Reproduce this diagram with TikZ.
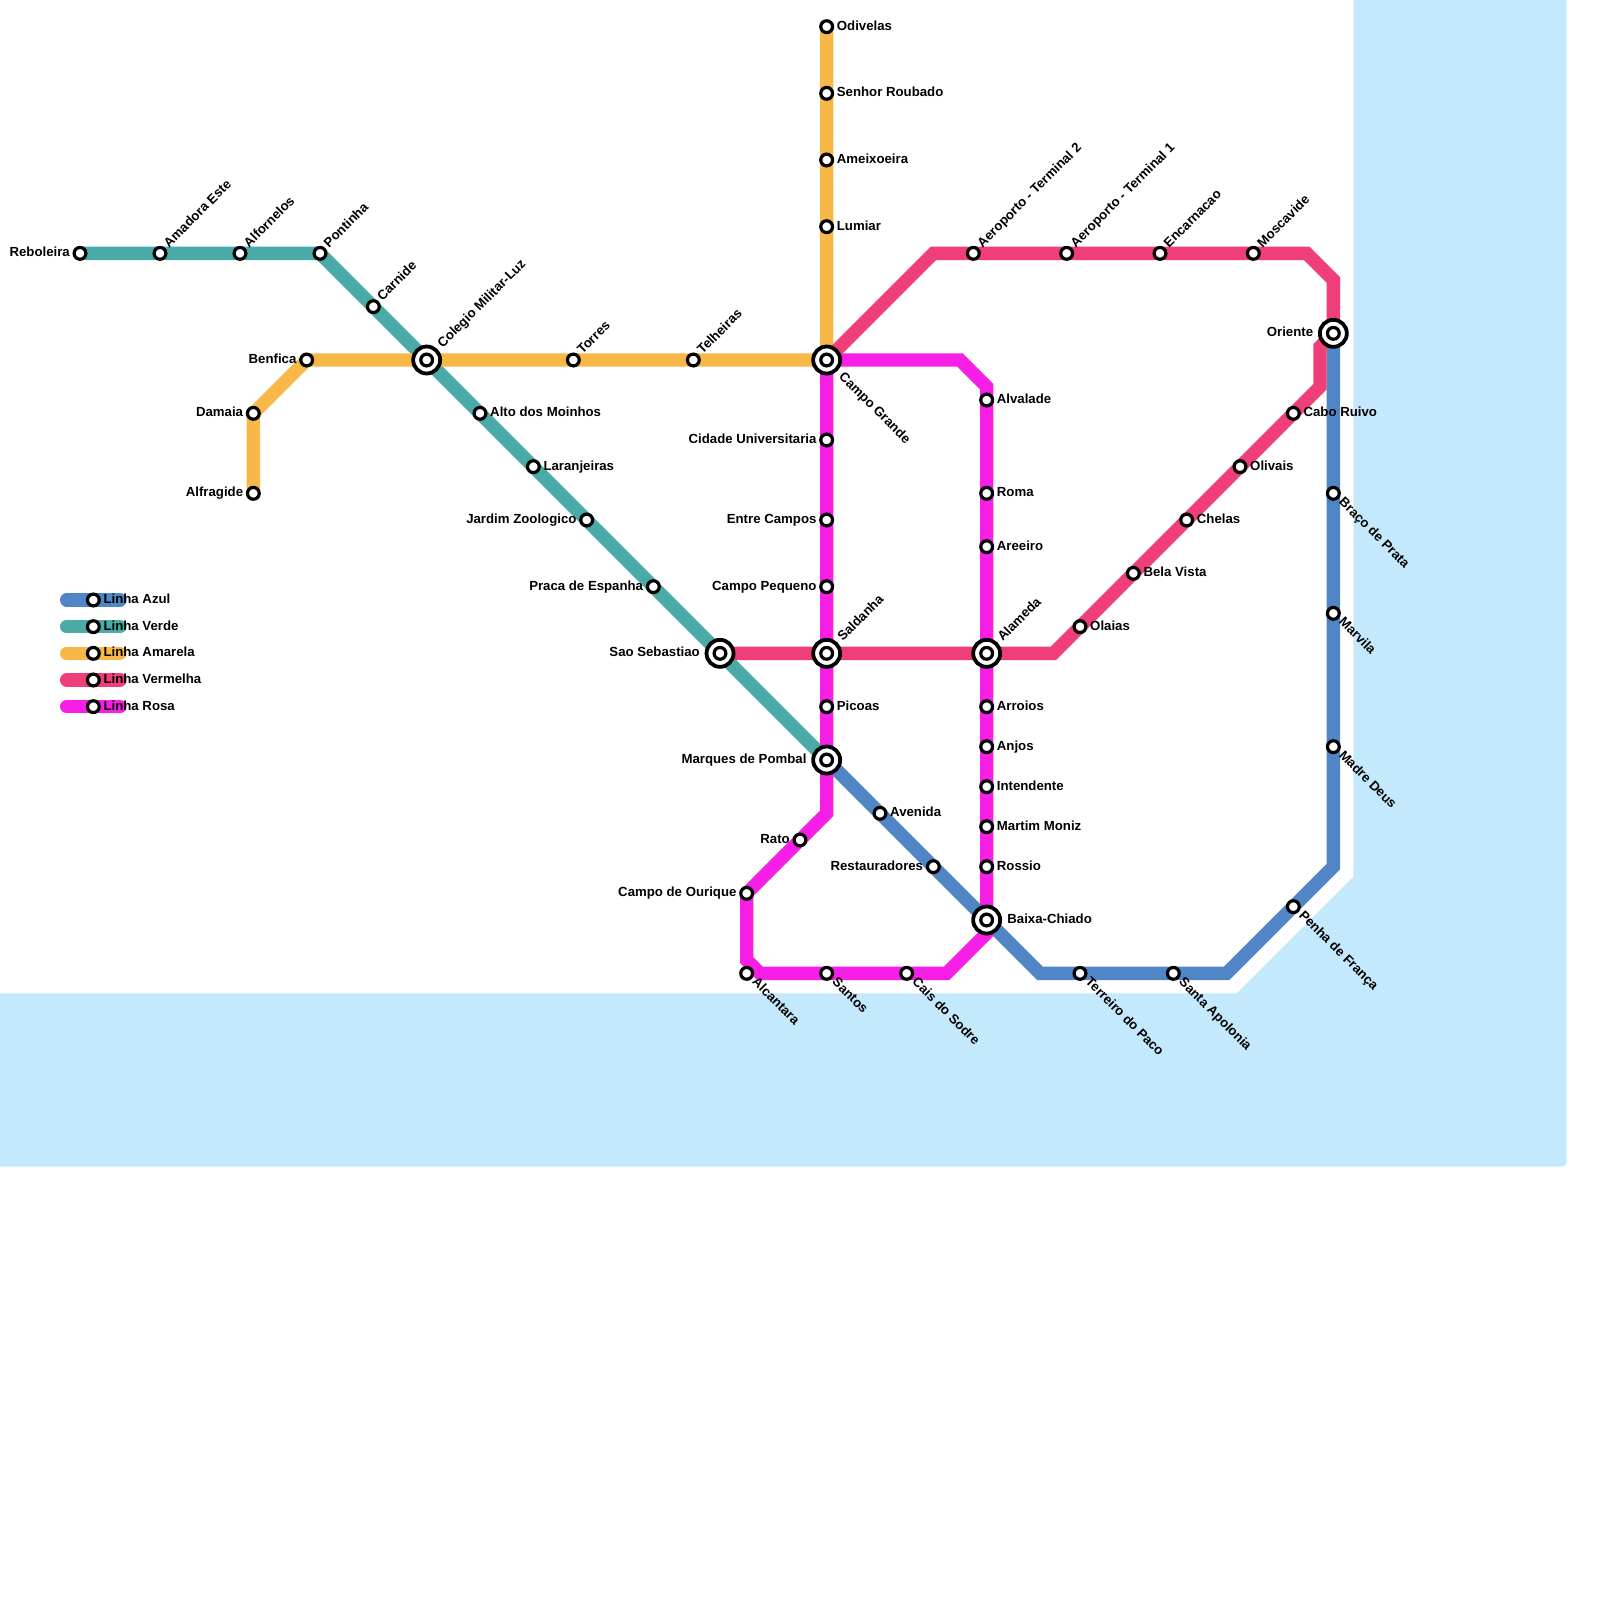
\documentclass[tikz,border=0pt]{standalone}
\usepackage{fontspec}
\setmainfont{Liberation Sans}
\pgfdeclarelayer{water}
\pgfdeclarelayer{lines}
\pgfsetlayers{water,lines,main}
\definecolor{cwater}{HTML}{C4E9FC}
\definecolor{cazul}{HTML}{5085C6}
\definecolor{cverde}{HTML}{4AAAA8}
\definecolor{camar}{HTML}{F8B848}
\definecolor{cverm}{HTML}{EF3E78}
\definecolor{crosa}{HTML}{F71EE6}
\def\px{0.03cm}
\tikzset{
  metro/.style={line width=13.33*\px,line cap=round,line join=miter,miter limit=10},
  stop/.style={circle,draw=black,fill=white,line width=3.2*\px,inner sep=0pt,outer sep=0pt,minimum size=11.8*\px},
  hubring/.style={circle,draw=black,fill=white,line width=3.8*\px,inner sep=0pt,outer sep=0pt,minimum size=27*\px},
  lab/.style={inner sep=0pt,text=black,font=\fontsize{11.28}{13}\selectfont\bfseries},
  nR/.style={lab,anchor=base west,xshift=10.0*\px,yshift=-3.5*\px},
  nL/.style={lab,anchor=base east,xshift=-10.0*\px,yshift=-3.5*\px},
  nU/.style={lab,anchor=base west,xshift=9*\px,yshift=5.0*\px,rotate=45},
  nD/.style={lab,anchor=base west,xshift=4.8*\px,yshift=-9.3*\px,rotate=-45},
  hR/.style={lab,anchor=base west,xshift=20.5*\px,yshift=-3.5*\px},
  hL/.style={lab,anchor=base east,xshift=-20*\px,yshift=-3.5*\px},
  hU/.style={lab,anchor=base west,xshift=16*\px,yshift=11.4*\px,rotate=45},
  hD/.style={lab,anchor=base west,xshift=11.5*\px,yshift=-17.3*\px,rotate=-45},
}
% name, x, y, label style, text
\newcommand{\stat}[5]{%
  \node[stop] (#1) at (#2,#3) {};
  \node[#4] (#1-t) at (#1.center) {#5};}
\newcommand{\hub}[5]{%
  \node[hubring] (#1-o) at (#2,#3) {};
  \node[stop] (#1) at (#2,#3) {};
  \node[#4] (#1-t) at (#1.center) {#5};}
\begin{document}
\begin{tikzpicture}[x=0.4cm,y=-0.4cm]
\useasboundingbox (0,0) rectangle (120,120);
\begin{pgfonlayer}{water}
\fill[cwater] (101.5,0) -- (117.5,0) [rounded corners=5*\px] -- (117.5,87.5) [sharp corners] -- (0,87.5) -- (0,74.5) -- (92.75,74.5) -- (101.5,65.75) -- cycle;
\end{pgfonlayer}
% legend
\coordinate (la1) at (5,45); \coordinate (la2) at (9,45);
\coordinate (lb1) at (5,47); \coordinate (lb2) at (9,47);
\coordinate (lc1) at (5,49); \coordinate (lc2) at (9,49);
\coordinate (ld1) at (5,51); \coordinate (ld2) at (9,51);
\coordinate (le1) at (5,53); \coordinate (le2) at (9,53);
\stat{lega}{7}{45}{nR}{Linha Azul}
\stat{legb}{7}{47}{nR}{Linha Verde}
\stat{legc}{7}{49}{nR}{Linha Amarela}
\stat{legd}{7}{51}{nR}{Linha Vermelha}
\stat{lege}{7}{53}{nR}{Linha Rosa}
% green
\stat{reboleira}{6}{19}{nL}{Reboleira}
\stat{amadora}{12}{19}{nU}{Amadora Este}
\stat{alfornelos}{18}{19}{nU}{Alfornelos}
\stat{pontinha}{24}{19}{nU}{Pontinha}
\stat{carnide}{28}{23}{nU}{Carnide}
\hub{colegio}{32}{27}{hU}{Colegio Militar-Luz}
\stat{alto}{36}{31}{nR}{Alto dos Moinhos}
\stat{laranjeiras}{40}{35}{nR}{Laranjeiras}
\stat{jardim}{44}{39}{nL}{Jardim Zoologico}
\stat{praca}{49}{44}{nL}{Praca de Espanha}
\hub{saosebastiao}{54}{49}{hL}{Sao Sebastiao}
\hub{marques}{62}{57}{hL}{Marques de Pombal}
% blue
\stat{avenida}{66}{61}{nR}{Avenida}
\stat{restauradores}{70}{65}{nL}{Restauradores}
\hub{baixa}{74}{69}{hR}{Baixa-Chiado}
\coordinate (b1) at (78,73);
\stat{terreiro}{81}{73}{nD}{Terreiro do Paco}
\stat{apolonia}{88}{73}{nD}{Santa Apolonia}
\coordinate (b2) at (92,73);
\stat{penha}{97}{68}{nD}{Penha de França}
\coordinate (b3) at (100,65);
\stat{madre}{100}{56}{nD}{Madre Deus}
\stat{marvila}{100}{46}{nD}{Marvila}
\stat{braco}{100}{37}{nD}{Braço de Prata}
\hub{oriente}{100}{25}{hL}{Oriente}
% yellow
\stat{alfragide}{19}{37}{nL}{Alfragide}
\stat{damaia}{19}{31}{nL}{Damaia}
\stat{benfica}{23}{27}{nL}{Benfica}
\stat{torres}{43}{27}{nU}{Torres}
\stat{telheiras}{52}{27}{nU}{Telheiras}
\hub{campogrande}{62}{27}{hD}{Campo Grande}
\stat{lumiar}{62}{17}{nR}{Lumiar}
\stat{ameixoeira}{62}{12}{nR}{Ameixoeira}
\stat{senhor}{62}{7}{nR}{Senhor Roubado}
\stat{odivelas}{62}{2}{nR}{Odivelas}
% red
\hub{saldanha}{62}{49}{hU}{Saldanha}
\hub{alameda}{74}{49}{hU}{Alameda}
\coordinate (r1) at (79,49);
\stat{olaias}{81}{47}{nR}{Olaias}
\stat{belavista}{85}{43}{nR}{Bela Vista}
\stat{chelas}{89}{39}{nR}{Chelas}
\stat{olivais}{93}{35}{nR}{Olivais}
\stat{cabo}{97}{31}{nR}{Cabo Ruivo}
\coordinate (r2) at (99,29);
\coordinate (r3) at (99,26);
\coordinate (r4) at (100,21);
\coordinate (r5) at (98,19);
\stat{moscavide}{94}{19}{nU}{Moscavide}
\stat{encarnacao}{87}{19}{nU}{Encarnacao}
\stat{aero1}{80}{19}{nU}{Aeroporto - Terminal 1}
\stat{aero2}{73}{19}{nU}{Aeroporto - Terminal 2}
\coordinate (r6) at (70,19);
% pink
\coordinate (p1) at (72,27);
\coordinate (p2) at (74,29);
\stat{alvalade}{74}{30}{nR}{Alvalade}
\stat{roma}{74}{37}{nR}{Roma}
\stat{areeiro}{74}{41}{nR}{Areeiro}
\stat{arroios}{74}{53}{nR}{Arroios}
\stat{anjos}{74}{56}{nR}{Anjos}
\stat{intendente}{74}{59}{nR}{Intendente}
\stat{martim}{74}{62}{nR}{Martim Moniz}
\stat{rossio}{74}{65}{nR}{Rossio}
\coordinate (p3) at (74,70);
\coordinate (p4) at (71,73);
\stat{cais}{68}{73}{nD}{Cais do Sodre}
\stat{santos}{62}{73}{nD}{Santos}
\coordinate (p5) at (57,73);
\coordinate (p6) at (56,72);
\stat{alcantara}{56}{73}{nD}{Alcantara}
\stat{ourique}{56}{67}{nL}{Campo de Ourique}
\stat{rato}{60}{63}{nL}{Rato}
\coordinate (p7) at (62,61);
\stat{picoas}{62}{53}{nR}{Picoas}
\stat{campopequeno}{62}{44}{nL}{Campo Pequeno}
\stat{entrecampos}{62}{39}{nL}{Entre Campos}
\stat{cidade}{62}{33}{nL}{Cidade Universitaria}
\begin{pgfonlayer}{lines}
\draw[metro,cazul] (la1) -- (la2);
\draw[metro,cverde] (lb1) -- (lb2);
\draw[metro,camar] (lc1) -- (lc2);
\draw[metro,cverm] (ld1) -- (ld2);
\draw[metro,crosa] (le1) -- (le2);
\draw[metro,cazul] (marques.center) -- (b1) -- (b2) -- (b3) -- (oriente.center);
\draw[metro,cverde] (reboleira.center) -- (pontinha.center) -- (marques.center);
\draw[metro,camar] (alfragide.center) -- (damaia.center) -- (benfica.center) -- (campogrande.center) -- (odivelas.center);
\draw[metro,cverm] (saosebastiao.center) -- (r1) -- (r2) -- (r3) -- (oriente.center) -- (r4) -- (r5) -- (r6) -- (campogrande.center);
\draw[metro,crosa] (campogrande.center) -- (p1) -- (p2) -- (p3) -- (p4) -- (p5) -- (p6) -- (ourique.center) -- (p7) -- (campogrande.center);
\end{pgfonlayer}
\end{tikzpicture}
\end{document}
